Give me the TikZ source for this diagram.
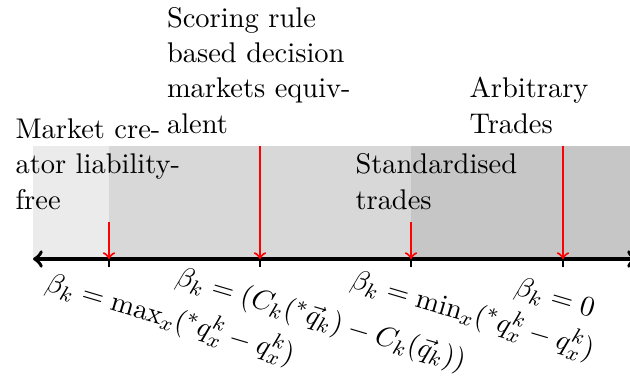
\documentclass[tikz,border=0pt]{standalone}
\definecolor{shadeA}{RGB}{235,235,235}
\definecolor{shadeB}{RGB}{216,216,216}
\definecolor{shadeC}{RGB}{198,198,198}
\begin{document}
\begin{tikzpicture}[x=0.3846pt,y=-0.3846pt,
  font=\fontsize{10.95}{13.6}\selectfont,
  toplabel/.style={align=left, inner xsep=0pt, inner ysep=4.6pt, anchor=south west},
  botlabel/.style={rotate=-16.5, anchor=base west, inner sep=0pt, font=\fontsize{11.3}{13.6}\selectfont},
  marker/.style={red, thick, ->},
  tickmark/.style={black, line width=0.4pt},
  axisline/.style={black, line width=1.4pt, <->}]
\useasboundingbox (0,0) rectangle (630,379);
\clip (0,0) rectangle (630,379);
% shaded regions
\fill[shadeA] (33,146) rectangle (645,259);
\fill[shadeB] (109,146) rectangle (645,259);
\fill[shadeC] (411,146) rectangle (645,259);
% axis points
\coordinate (L) at (33,259);
\coordinate (R) at (637,259);
\coordinate (t1) at (109,259);
\coordinate (t2) at (260,259);
\coordinate (t3) at (411,259);
\coordinate (t4) at (563,259);
\foreach \t in {t1,t2,t3,t4} \draw[tickmark] (\t) ++(0,-6) -- ++(0,14);
\draw[axisline] (L) -- (R);
% top labels
\node[toplabel] (lab1) at (15,222) {Market cre-\\ator liability-\\free};
\node[toplabel] (lab2) at (166.5,146) {Scoring rule\\based decision\\markets equiv-\\alent};
\node[toplabel] (lab3) at (355,222) {Standardised\\trades};
\node[toplabel] (lab4) at (469,146) {Arbitrary\\Trades};
% markers
\draw[marker] (lab1.south -| t1) -- (t1);
\draw[marker] (lab2.south -| t2) -- (t2);
\draw[marker] (lab3.south -| t3) -- (t3);
\draw[marker] (lab4.south -| t4) -- (t4);
% bottom labels
\node[botlabel] (b1) at (44,290) {$\beta_k = \max_x({}^*q^k_x - q^k_x)$};
\node[botlabel] (b2) at (174,284) {$\beta_k = (C_k({}^*\vec{q}_k) - C_k(\vec{q}_k))$};
\node[botlabel] (b3) at (349,287) {$\beta_k = \min_x({}^*q^k_x - q^k_x)$};
\node[botlabel] (b4) at (513,294) {$\beta_k = 0$};
\end{tikzpicture}
\end{document}
